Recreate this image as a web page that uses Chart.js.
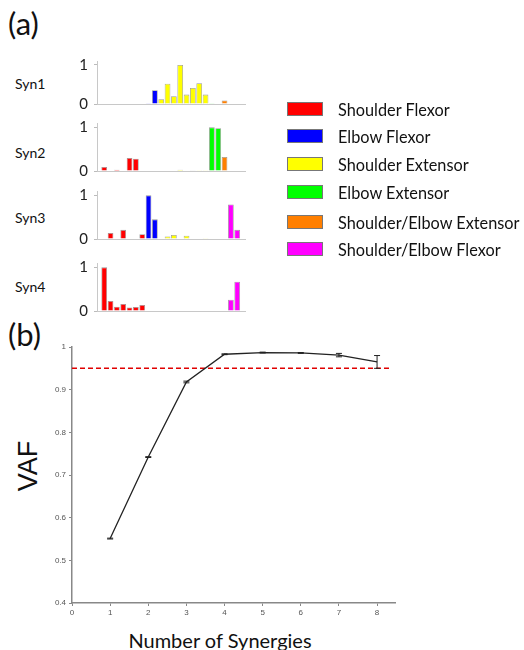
<!DOCTYPE html>
<html>
<head>
<meta charset="utf-8">
<script src="https://cdn.jsdelivr.net/npm/chart.js@4.4.1/dist/chart.umd.min.js"></script>
<style>
  html, body { margin: 0; padding: 0; background: #fff; }
  #wrap { position: relative; width: 524px; height: 650px; overflow: hidden; font-family: Lato, "Open Sans", sans-serif; color: #111; }
  .abs { position: absolute; white-space: nowrap; }
  canvas { display: block; }
  .swatch { position: absolute; width: 34px; height: 12px; border: 1px solid #777; }
</style>
</head>
<body>
<div id="wrap">
  <div class="abs" style="left:8px;top:4px;font-size:31px;">(a)</div>
  <div class="abs" style="left:8px;top:315px;font-size:31px;">(b)</div>
  <div class="abs" style="left:28px;top:466px;font-family:'Liberation Sans',Arial,sans-serif;font-size:27px;transform:translate(-50%,-50%) rotate(-90deg);">VAF</div>
  <div class="abs" style="left:220px;top:640px;font-size:20px;transform:translate(-50%,-50%);">Number of Synergies</div>
</div>
<script>
// muscle groups (index into groupNames) for the 22 muscles
const groupNames = ['Shoulder Flexor', 'Elbow Flexor', 'Shoulder Extensor', 'Elbow Extensor', 'Shoulder/Elbow Extensor', 'Shoulder/Elbow Flexor'];
const groupColors = ['#ff0000', '#0000ff', '#ffff00', '#00ff00', '#ff7f00', '#ff00ff'];
const muscleGroup = [0, 0, 0, 0, 0, 0, 0, 1, 1, 2, 2, 2, 2, 2, 2, 2, 2, 3, 3, 4, 5, 5];

const synNames = ['Syn1', 'Syn2', 'Syn3', 'Syn4'];
const syn1 = [0, 0, 0, 0, 0, 0, 0, 0.02, 0.35, 0.12, 0.52, 0.2, 1.0, 0.24, 0.41, 0.53, 0.24, 0.02, 0, 0.09, 0, 0];
const syn2 = [0.09, 0, 0.03, 0, 0.3, 0.28, 0, 0, 0, 0.01, 0, 0, 0.03, 0, 0.015, 0.02, 0.005, 1.0, 0.98, 0.32, 0, 0];
const syn3 = [0, 0.14, 0, 0.21, 0, 0, 0.11, 1.0, 0.45, 0, 0.06, 0.09, 0, 0.075, 0, 0, 0.02, 0, 0, 0, 0.79, 0.21];
const syn4 = [1.0, 0.23, 0.1, 0.16, 0.08, 0.09, 0.14, 0.01, 0, 0, 0, 0, 0, 0, 0, 0, 0, 0, 0.01, 0, 0.26, 0.67];
const synTicks = [0, 1];

// panel (b)
const synergyCount = [1, 2, 3, 4, 5, 6, 7, 8];
const vafMean = [0.551, 0.742, 0.918, 0.983, 0.987, 0.986, 0.981, 0.965];
const vafErr = [0.001, 0.001, 0.002, 0.001, 0.001, 0.001, 0.004, 0.015];
const vafThreshold = 0.95;
const thresholdRange = [0, 8.36];
const vafTicksY = [0.4, 0.5, 0.6, 0.7, 0.8, 0.9, 1];
const vafTicksX = [0, 1, 2, 3, 4, 5, 6, 7, 8];

const wrap = document.getElementById('wrap');

// small panels: axis top / baseline in page px
const synBoxes = [
  { top: 56, bottom: 109, label: 83 },
  { top: 118, bottom: 176, label: 152 },
  { top: 186, bottom: 244, label: 217 },
  { top: 258, bottom: 316, label: 286 }
];
const synData = [syn1, syn2, syn3, syn4];

synData.forEach((vals, k) => {
  const box = synBoxes[k];
  const lbl = document.createElement('div');
  lbl.className = 'abs';
  lbl.style.cssText = `left:15px;top:${box.label}px;font-size:14px;transform:translateY(-50%);`;
  lbl.textContent = synNames[k];
  wrap.appendChild(lbl);

  const holder = document.createElement('div');
  holder.className = 'abs';
  holder.style.cssText = `left:60px;top:${box.top - 10}px;width:190px;height:${box.bottom - box.top + 20}px;`;
  const cv = document.createElement('canvas');
  holder.appendChild(cv);
  wrap.appendChild(holder);

  new Chart(cv, {
    type: 'bar',
    data: {
      datasets: [{
        data: vals.map((v, i) => ({ x: i, y: v })),
        backgroundColor: muscleGroup.map(g => groupColors[g]),
        borderColor: 'rgba(110,110,110,0.7)',
        borderWidth: 0.8,
        barPercentage: 0.9,
        categoryPercentage: 1
      }]
    },
    options: {
      animation: false,
      responsive: true,
      maintainAspectRatio: false,
      layout: { padding: { top: 10, bottom: 10, right: 5, left: 0 } },
      plugins: { legend: { display: false }, tooltip: { enabled: false } },
      scales: {
        x: {
          type: 'linear',
          offset: false,
          min: -1.14,
          max: 22.23,
          ticks: { display: false },
          grid: { display: false, offset: false },
          border: { display: true, color: '#c8c8c8', width: 1 },
          afterFit: s => { s.height = 0; }
        },
        y: {
          min: 0,
          max: 1.1,
          afterBuildTicks: s => { s.ticks = synTicks.map(v => ({ value: v })); },
          ticks: { font: { family: 'Lato', size: 15 }, color: '#222', padding: 6 },
          grid: { drawOnChartArea: false, tickLength: 3, color: '#bbb' },
          border: { color: '#c8c8c8', width: 1 },
          afterFit: s => { s.width = 37; }
        }
      }
    }
  });
});

// legend
const legendRows = [109, 136, 164, 192, 222, 249];
groupNames.forEach((name, i) => {
  const sw = document.createElement('div');
  sw.className = 'swatch';
  sw.style.left = '287px';
  sw.style.top = (legendRows[i] - 7) + 'px';
  sw.style.background = groupColors[i];
  wrap.appendChild(sw);
  const t = document.createElement('div');
  t.className = 'abs';
  t.style.cssText = `left:338px;top:${legendRows[i]}px;font-size:16.3px;transform:translateY(-50%);`;
  t.textContent = name;
  wrap.appendChild(t);
});

// panel (b)
const errorBars = {
  id: 'errorBars',
  afterDatasetsDraw(chart) {
    const { ctx, scales: { x, y } } = chart;
    ctx.save();
    ctx.strokeStyle = '#222';
    ctx.lineWidth = 1;
    synergyCount.forEach((n, i) => {
      const px = x.getPixelForValue(n);
      const lo = y.getPixelForValue(vafMean[i] - vafErr[i]);
      const hi = y.getPixelForValue(vafMean[i] + vafErr[i]);
      ctx.beginPath();
      ctx.moveTo(px, lo); ctx.lineTo(px, hi);
      ctx.moveTo(px - 3, lo); ctx.lineTo(px + 3, lo);
      ctx.moveTo(px - 3, hi); ctx.lineTo(px + 3, hi);
      ctx.stroke();
    });
    ctx.restore();
  }
};

const holderB = document.createElement('div');
holderB.className = 'abs';
holderB.style.cssText = 'left:0px;top:330px;width:524px;height:320px;';
const cvB = document.createElement('canvas');
holderB.appendChild(cvB);
wrap.appendChild(holderB);

new Chart(cvB, {
  type: 'line',
  data: {
    datasets: [
      {
        label: 'VAF',
        data: synergyCount.map((n, i) => ({ x: n, y: vafMean[i] })),
        borderColor: '#222',
        borderWidth: 1.3,
        pointRadius: 0,
        tension: 0
      },
      {
        label: 'Threshold',
        data: thresholdRange.map(v => ({ x: v, y: vafThreshold })),
        borderColor: '#e00000',
        borderWidth: 1.5,
        borderDash: [5, 3],
        pointRadius: 0
      }
    ]
  },
  options: {
    animation: false,
    responsive: true,
    maintainAspectRatio: false,
    layout: { padding: { top: 17, right: 129, left: 0, bottom: 0 } },
    plugins: { legend: { display: false }, tooltip: { enabled: false } },
    scales: {
      x: {
        type: 'linear',
        min: 0,
        max: 8.47,
        afterBuildTicks: s => { s.ticks = vafTicksX.map(v => ({ value: v })); },
        ticks: { font: { family: 'Liberation Sans', size: 8 }, color: '#555', padding: 2 },
        grid: { drawOnChartArea: false, tickLength: 3, color: '#888' },
        border: { color: '#888', width: 1.5 },
        afterFit: s => { s.height = 47; }
      },
      y: {
        min: 0.4,
        max: 1,
        afterBuildTicks: s => { s.ticks = vafTicksY.map(v => ({ value: v })); },
        ticks: {
          font: { family: 'Liberation Sans', size: 8 },
          color: '#555',
          padding: 3,
          callback: v => String(+v.toFixed(1))
        },
        grid: { drawOnChartArea: false, tickLength: 3, color: '#888' },
        border: { color: '#888', width: 1.5 },
        afterFit: s => { s.width = 72; }
      }
    }
  },
  plugins: [errorBars]
});
</script>
</body>
</html>
